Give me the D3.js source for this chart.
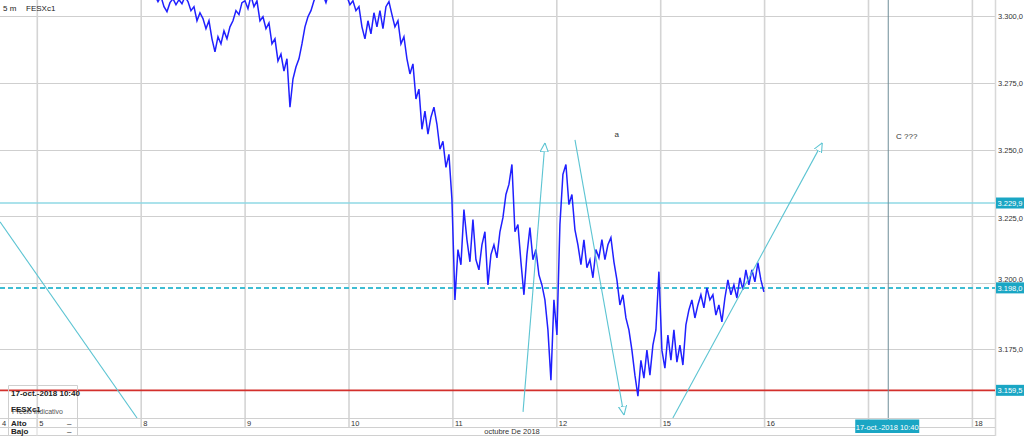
<!DOCTYPE html>
<html><head><meta charset="utf-8">
<script src="https://cdn.jsdelivr.net/npm/d3@7"></script>
<style>
body{margin:0;background:#fff}
svg{display:block;font-family:"Liberation Sans",Arial,sans-serif}
</style>
</head><body>
<svg id="c" width="1024" height="436"></svg>
<script>
// ---------- data ----------
const dayLabels = ["4","5","8","9","10","11","12","15","16","17","18"];
const dayIndex  = [-1,0,1,2,3,4,5,6,7,8,9];          // trading-day index (Oct 5 = 0)
const priceTicks = [3175,3200,3225,3250,3275,3300];
const seriesStart = 1.046;      // trading-day index of first sample
const seriesStep  = 0.02887;    // trading days between samples
const prices = [
3314.2,3312.4,3310.5,3307.8,3305.6,3307.5,3303.7,3301.8,3305.2,3306.7,
3304.4,3306.3,3304.8,3307.5,3305.6,3302.2,3303.7,3298.4,3301.4,3299.2,
3295.4,3298.4,3291.6,3286.7,3292.4,3289.7,3294.6,3291.6,3296.1,3298.4,
3302.2,3300.7,3305.2,3305.9,3302.9,3307.8,3303.7,3305.9,3298.4,3299.9,
3295.4,3297.6,3289.7,3291.6,3283.3,3285.9,3279.5,3284.1,3265.9,3276.5,
3281.0,3284.1,3289.7,3296.1,3299.9,3302.2,3305.9,3308.6,3309.7,3308.2,
3305.2,3309.0,3310.5,3309.7,3311.2,3309.0,3308.2,3307.5,3304.4,3305.9,
3302.2,3303.7,3296.1,3291.6,3298.4,3293.5,3301.4,3296.1,3302.2,3295.4,
3303.7,3305.6,3300.7,3296.1,3298.4,3289.7,3292.4,3284.1,3278.4,3282.2,
3269.0,3272.7,3257.6,3264.4,3255.8,3262.2,3265.9,3259.5,3250.1,3253.1,
3243.3,3248.2,3231.2,3193.5,3212.4,3206.7,3227.4,3216.1,3207.8,3223.7,
3208.6,3204.8,3214.2,3219.1,3199.1,3210.5,3214.2,3209.3,3219.1,3224.4,
3233.1,3236.9,3244.4,3219.1,3221.8,3207.8,3195.4,3210.5,3220.7,3208.6,
3212.4,3202.9,3199.1,3193.5,3182.2,3163.3,3193.5,3180.3,3221.8,3240.7,
3244.4,3229.3,3233.1,3219.9,3214.2,3206.7,3216.1,3205.6,3208.6,3201.8,
3212.4,3209.3,3216.1,3208.6,3214.2,3216.9,3207.8,3201.0,3191.6,3195.4,
3186.7,3182.2,3174.6,3165.2,3157.3,3170.8,3164.1,3174.6,3165.2,3176.5,
3182.2,3204.1,3174.6,3167.8,3180.3,3170.8,3182.2,3170.1,3176.5,3169.0,
3184.1,3189.7,3193.5,3186.7,3191.6,3195.4,3190.5,3198.0,3193.5,3195.4,
3187.8,3191.6,3185.2,3194.2,3201.0,3195.4,3199.1,3194.2,3201.8,3197.3,
3204.8,3199.1,3204.8,3200.3,3207.5,3201.0,3196.5
];
const levelValues = [3229.9, 3198.0, 3159.5];
const levelKinds  = ["solid", "dashed", "red"];
// trend lines [t1, p1, t2, p2] in (trading-day index, price)
const trendLines = [
  [-0.359, 3222.8, 0.960, 3149.1],
  [4.675, 3151.4, 4.886, 3252.5],
  [5.175, 3253.6, 5.647, 3150.2],
  [6.117, 3149.1, 7.555, 3252.5]
];
const trendArrow = [false, true, true, true];
const notes = [{t:5.555, p:3256.0, text:"a"}, {t:8.265, p:3255.2, text:"C ???"}];
const cursorTime = 8.19;
const cursorLabel = "17-oct.-2018 10:40";
const monthLabel = "octubre De 2018";
const symbol = "FESXc1", period = "5 m";

// ---------- layout ----------
const W = 1024, H = 436;
const plot = {l:0, r:995, t:0, b:418};
const teal = "#1aa6c4", lineTeal = "#5cc4d2";
const svg = d3.select("#c");

const loc = d3.formatLocale({decimal:",", thousands:".", grouping:[3], currency:["",""]});
const fmt = loc.format(",.1f");

const x = d3.scaleLinear().domain([0, 9]).range([37.3, 37.3 + 9*103.9]);
const y = d3.scaleLinear().domain([3149.1, 3306.2]).range([plot.b, plot.t]);
const cx = x(cursorTime);

svg.append("rect").attr("width",W).attr("height",H).attr("fill","#fff");

const defs = svg.append("defs");
defs.append("clipPath").attr("id","clip").append("rect")
  .attr("x",plot.l).attr("y",plot.t).attr("width",plot.r-plot.l).attr("height",plot.b-plot.t);
defs.append("marker").attr("id","arr").attr("viewBox","0 0 10 10")
  .attr("refX",10).attr("refY",5).attr("markerWidth",9).attr("markerHeight",9)
  .attr("markerUnits","userSpaceOnUse").attr("orient","auto")
  .append("path").attr("d","M0,0.5 L10,5 L0,9.5 Z")
  .attr("fill","#fff").attr("stroke",lineTeal).attr("stroke-width",1.2);

// grid
const grid = svg.append("g");
grid.selectAll("line.h").data(priceTicks).join("line")
  .attr("x1",plot.l).attr("x2",plot.r)
  .attr("y1",d=>Math.round(y(d))+0.5).attr("y2",d=>Math.round(y(d))+0.5)
  .attr("stroke","#cfcfcf").attr("stroke-width",1);
grid.selectAll("line.v").data(dayIndex.filter(d=>x(d)>=0)).join("line")
  .attr("x1",d=>x(d)).attr("x2",d=>x(d))
  .attr("y1",plot.t).attr("y2",427)
  .attr("stroke","#d4d4d4").attr("stroke-width",1.6);
// right border
svg.append("line").attr("x1",plot.r+0.5).attr("x2",plot.r+0.5).attr("y1",0).attr("y2",436)
  .attr("stroke","#d8d8d8").attr("stroke-width",1.5);

// right axis labels (nudged away from level tags like the original)
svg.append("g").selectAll("text").data(priceTicks).join("text")
  .attr("x",998).attr("y",d=>y(d)+3 + (d===3200 ? -3.5 : d===3225 ? 1.5 : 0))
  .attr("font-size",7.5).attr("fill","#333").text(d=>fmt(d));

const g = svg.append("g").attr("clip-path","url(#clip)");

// levels
levelValues.forEach((v,i)=>{
  const k = levelKinds[i];
  g.append("line").attr("x1",plot.l).attr("x2",plot.r)
   .attr("y1",y(v)).attr("y2",y(v))
   .attr("stroke", k==="red" ? "#d3302c" : k==="dashed" ? "#3fbdd3" : "#8fd8e4")
   .attr("stroke-width", k==="dashed" ? 2 : 1.6)
   .attr("stroke-dasharray", k==="dashed" ? "5,3" : null);
});

// price series
const line = d3.line().x((d,i)=>x(seriesStart + i*seriesStep)).y(d=>y(d));
g.append("path").datum(prices).attr("d",line)
  .attr("fill","none").attr("stroke","#2020ff").attr("stroke-width",1.5)
  .attr("stroke-linejoin","miter");

// trend lines
trendLines.forEach((t,i)=>{
  svg.append("line").attr("clip-path","url(#clip)")
    .attr("x1",x(t[0])).attr("y1",y(t[1])).attr("x2",x(t[2])).attr("y2",y(t[3]))
    .attr("stroke",lineTeal).attr("stroke-width",1.1)
    .attr("marker-end", trendArrow[i] ? "url(#arr)" : null);
});

// notes
svg.append("g").selectAll("text").data(notes).join("text")
  .attr("x",d=>x(d.t)).attr("y",d=>y(d.p)+3)
  .attr("font-size",8).attr("fill","#333").text(d=>d.text);

// cursor line
svg.append("line").attr("x1",cx).attr("x2",cx)
  .attr("y1",0).attr("y2",420).attr("stroke","#6d8c97").attr("stroke-width",1);

// level tags
levelValues.forEach(v=>{
  const yy = y(v);
  svg.append("rect").attr("x",996).attr("y",yy-5.5).attr("width",28).attr("height",11).attr("fill",teal);
  svg.append("text").attr("x",997.5).attr("y",yy+3).attr("font-size",7.5).attr("fill","#fff").text(fmt(v));
});

// top-left title
svg.append("text").attr("x",3).attr("y",11).attr("font-size",8).attr("fill","#222").text(period);
svg.append("text").attr("x",26).attr("y",11).attr("font-size",8).attr("fill","#222").text(symbol);

// bottom axis rows
const ax = svg.append("g");
[418.5, 427.5, 435.5].forEach(yy=>{
  ax.append("line").attr("x1",0).attr("x2",plot.r).attr("y1",yy).attr("y2",yy)
    .attr("stroke","#d0d0d0").attr("stroke-width",1);
});
// day labels; the one under the cursor tag is hidden by it in the original
ax.selectAll("text.day").data(dayIndex.filter(d=>Math.abs(x(d)-cx)>34)).join("text")
  .attr("x",d=>Math.max(x(d),0)+2).attr("y",425.5)
  .attr("font-size",7.5).attr("fill","#333")
  .text(d=>dayLabels[dayIndex.indexOf(d)]);
ax.append("text").attr("x",512).attr("y",434).attr("text-anchor","middle")
  .attr("font-size",7.5).attr("fill","#333").text(monthLabel);

// cursor time tag
svg.append("rect").attr("x",cx-33).attr("y",419.5).attr("width",64).attr("height",13.5).attr("fill",teal);
svg.append("text").attr("x",cx-1).attr("y",429.5).attr("text-anchor","middle")
  .attr("font-size",7.5).attr("fill","#fff").text(cursorLabel);

// info box (bottom-left)
const ib = svg.append("g");
ib.append("path").attr("d","M8.5,436 V385.5 H77.5 V436").attr("fill","none").attr("stroke","#cfcfcf");
ib.append("line").attr("x1",37).attr("x2",37).attr("y1",418).attr("y2",436).attr("stroke","#d8d8d8");
ib.append("text").attr("x",11).attr("y",396).attr("font-size",8).attr("font-weight","bold").attr("fill","#222").text(cursorLabel);
ib.append("text").attr("x",12).attr("y",414).attr("font-size",7).attr("fill","#555").text("Precio indicativo");
ib.append("text").attr("x",11).attr("y",412).attr("font-size",8).attr("font-weight","bold").attr("fill","#222").text(symbol);
ib.append("text").attr("x",11).attr("y",425.5).attr("font-size",8).attr("font-weight","bold").attr("fill","#222").text("Alto");
ib.append("text").attr("x",11).attr("y",434).attr("font-size",8).attr("font-weight","bold").attr("fill","#222").text("Bajo");
ib.append("text").attr("x",67).attr("y",425.5).attr("font-size",8).attr("fill","#222").text("–");
ib.append("text").attr("x",67).attr("y",434).attr("font-size",8).attr("fill","#222").text("–");
</script>
</body></html>
